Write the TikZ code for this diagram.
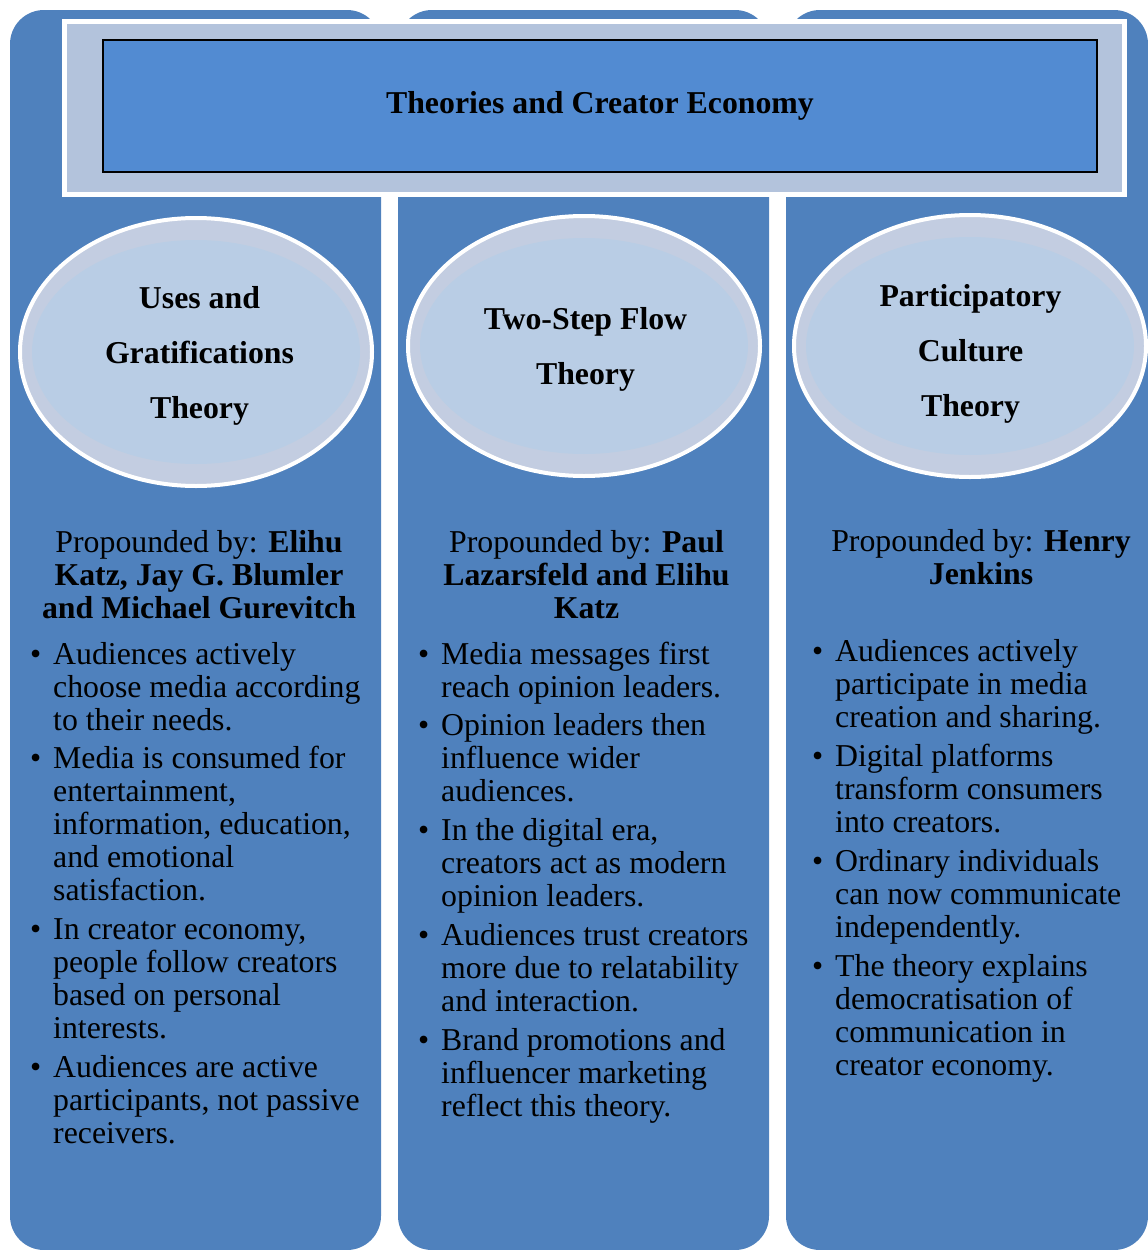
\documentclass[tikz,border=0pt]{standalone}
\usepackage{fontspec}
\setmainfont{Liberation Serif}
\usetikzlibrary{shapes.geometric}
\definecolor{colblue}{HTML}{4F81BD}
\definecolor{bandblue}{HTML}{B3C3DC}
\definecolor{titleblue}{HTML}{528BD2}
\definecolor{ringblue}{HTML}{C3CDE1}
\definecolor{ellblue}{HTML}{B9CDE5}
\newcommand{\bodyfont}{\fontsize{31.8}{33}\selectfont}
\newcommand{\ellfont}{\fontsize{31.8}{55}\selectfont\bfseries}
\newcommand{\bul}{\llap{\textbullet\hspace{12pt}}}
\begin{document}
\begin{tikzpicture}[x=1pt, y=-1pt,
    column/.style={fill=colblue, rounded corners=34pt},
    theory/.style 2 args={draw=white, line width=4pt, fill=ringblue, ellipse,
        inner sep=0pt, minimum width=#1pt, minimum height=#2pt,
        path picture={\fill[ellblue] (path picture bounding box.center)
            ellipse [x radius={#1/2-12}, y radius={#2/2-22}];}},
    thname/.style={align=center, inner sep=0pt, anchor=base, font=\ellfont},
    byline/.style={align=center, inner sep=0pt, anchor=base, font=\bodyfont},
    point/.style={align=left, inner sep=0pt, anchor=base west, font=\bodyfont}]
    \useasboundingbox (0,0) rectangle (1148,1250);

    % Define the columns
    \fill[column] (10,10) rectangle (381,1250);
    \fill[column] (398,10) rectangle (769,1250);
    \fill[column] (786,10) rectangle (1148,1250);

    % Title block
    \node[draw=white, line width=5pt, fill=bandblue, minimum width=1060pt,
        minimum height=173pt, inner sep=0pt] (band) at (594.5,108) {};
    \node[draw=black, line width=1.3pt, fill=titleblue, minimum width=994pt,
        minimum height=132pt, inner sep=0pt, font=\bodyfont\bfseries] (title) at (600,106)
        {Theories and Creator Economy};

    % Theory ellipses (text placed by its last baseline)
    \node[theory={352}{268}] (uses) at (196,352) {};
    \node[theory={352}{260}] (twostep) at (584,346) {};
    \node[theory={352}{262}] (partic) at (970,346) {};
    \node[thname] (usesT) at (199.5,418) {Uses and\\Gratifications\\Theory};
    \node[thname] (twostepT) at (585.5,384) {Two-Step Flow\\Theory};
    \node[thname] (particT) at (970.5,416) {Participatory\\Culture\\Theory};

    % Propounded by
    \node[byline] (usesBy) at (199,618) {Propounded by: \textbf{Elihu}\\\textbf{Katz, Jay G. Blumler}\\\textbf{and Michael Gurevitch}};
    \node[byline] (twostepBy) at (586.5,618) {Propounded by: \textbf{Paul}\\\textbf{Lazarsfeld and Elihu}\\\textbf{Katz}};
    \node[byline] (particBy) at (981,584) {Propounded by: \textbf{Henry}\\\textbf{Jenkins}};

    % Points, first column
    \node[point] (u1) at (53,730) {\bul Audiences actively\\choose media according\\to their needs.};
    \node[point] (u2) at (53,900) {\bul Media is consumed for\\entertainment,\\information, education,\\and emotional\\satisfaction.};
    \node[point] (u3) at (53,1038) {\bul In creator economy,\\people follow creators\\based on personal\\interests.};
    \node[point] (u4) at (53,1143) {\bul Audiences are active\\participants, not passive\\receivers.};

    % Points, second column
    \node[point] (t1) at (441,697) {\bul Media messages first\\reach opinion leaders.};
    \node[point] (t2) at (441,801) {\bul Opinion leaders then\\influence wider\\audiences.};
    \node[point] (t3) at (441,906) {\bul In the digital era,\\creators act as modern\\opinion leaders.};
    \node[point] (t4) at (441,1011) {\bul Audiences trust creators\\more due to relatability\\and interaction.};
    \node[point] (t5) at (441,1116) {\bul Brand promotions and\\influencer marketing\\reflect this theory.};

    % Points, third column
    \node[point] (p1) at (835,727) {\bul Audiences actively\\participate in media\\creation and sharing.};
    \node[point] (p2) at (835,832) {\bul Digital platforms\\transform consumers\\into creators.};
    \node[point] (p3) at (835,937) {\bul Ordinary individuals\\can now communicate\\independently.};
    \node[point] (p4) at (835,1075) {\bul The theory explains\\democratisation of\\communication in\\creator economy.};
\end{tikzpicture}
\end{document}
